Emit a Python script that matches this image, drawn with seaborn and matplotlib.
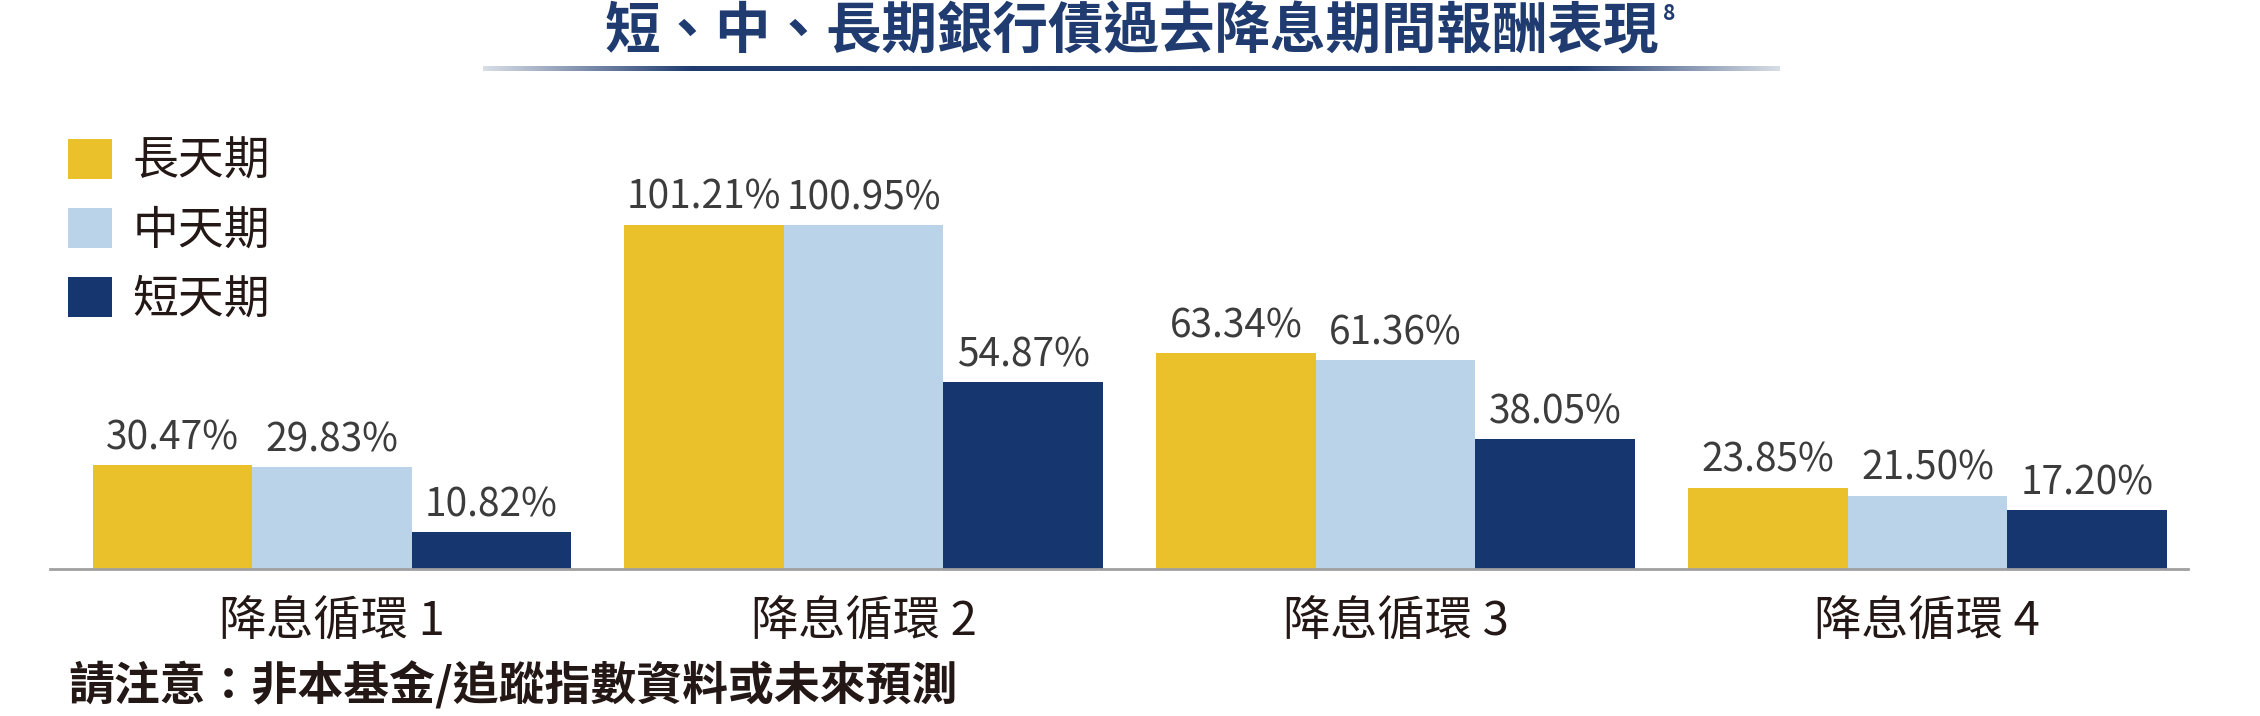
import numpy as np
import pandas as pd
import matplotlib
matplotlib.use("Agg")
import matplotlib.pyplot as plt
import seaborn as sns

categories = ["降息循環 1", "降息循環 2", "降息循環 3", "降息循環 4"]
series = ["長天期", "中天期", "短天期"]
long_vals = [30.47, 101.21, 63.34, 23.85]
mid_vals = [29.83, 100.95, 61.36, 21.50]
short_vals = [10.82, 54.87, 38.05, 17.20]
colors = ["#EAC12B", "#BBD3E8", "#15366E"]
title = "短、中、長期銀行債過去降息期間報酬表現"
title_note = "8"
note = "請注意：非本基金/追蹤指數資料或未來預測"

sns.set_theme(style="white")
plt.rcParams['font.family'] = ['Noto Sans CJK TC', 'DejaVu Sans']

df = pd.DataFrame({
    "cat": categories * 3,
    "series": [series[0]] * 4 + [series[1]] * 4 + [series[2]] * 4,
    "val": long_vals + mid_vals + short_vals,
})

W, H = 2260, 716
fig = plt.figure(figsize=(W / 100, H / 100), dpi=100)
ax = fig.add_axes([50 / W, (H - 569) / H, (2188 - 50) / W, (569 - 100) / H])

sns.barplot(data=df, x="cat", y="val", hue="series", hue_order=series,
            palette=colors, width=0.9, gap=0, saturation=1, ax=ax,
            errorbar=None, legend=True, linewidth=0)

for cont in ax.containers:
    ax.bar_label(cont, fmt="{:.2f}%", padding=5, fontsize=28, color="#3C3C3C")

ax.set_xlim(-0.53, 3.49)
ax.set_ylim(0, 137.8)
ax.set_xlabel("")
ax.set_ylabel("")
ax.set_yticks([])
for s in ["top", "right", "left"]:
    ax.spines[s].set_visible(False)
ax.spines["bottom"].set_color("#A0A0A0")
ax.spines["bottom"].set_linewidth(2)
ax.tick_params(axis="x", length=0, pad=21, labelsize=34, labelcolor="#231815")

handles, labels = ax.get_legend_handles_labels()
ax.legend_.remove()
fig.legend(handles, labels, loc="upper left", bbox_to_anchor=(68 / W, 1 - 137 / H),
           frameon=False, fontsize=33, handlelength=0.95, handleheight=0.95,
           labelspacing=0.45, handletextpad=0.45, borderpad=0, borderaxespad=0,
           labelcolor="#231815")

# Title
t = fig.text(1132 / W, 1 - 32 / H, title, ha="center", va="center", fontsize=40,
             fontweight="bold", color="#1F3B70")
fig.canvas.draw()
bb = t.get_window_extent()
fig.text((bb.x1 + 4) / W, 1 - 14 / H, title_note, ha="left", va="center", fontsize=15,
         fontweight="bold", color="#1F3B70")

# Gradient underline
lax = fig.add_axes([483 / W, 1 - 71 / H, (1780 - 483) / W, 5 / H])
n = 600
xs = np.linspace(0, 1, n)
alpha = np.clip(np.minimum(xs, 1 - xs) / 0.16, 0, 1)
navy = np.array([0x1F, 0x3B, 0x70]) / 255
gray = np.array([0.85, 0.87, 0.9])
rgb = gray[None, :] * (1 - alpha[:, None]) + navy[None, :] * alpha[:, None]
img = np.concatenate([rgb, np.ones((n, 1))], axis=1)[None, :, :]
lax.imshow(img, aspect="auto", extent=(0, 1, 0, 1))
lax.axis("off")

fig.text(68 / W, 1 - 686 / H, note, ha="left", va="center", fontsize=33,
         fontweight="bold", color="#231815")

fig.savefig("out.png", dpi=100)
